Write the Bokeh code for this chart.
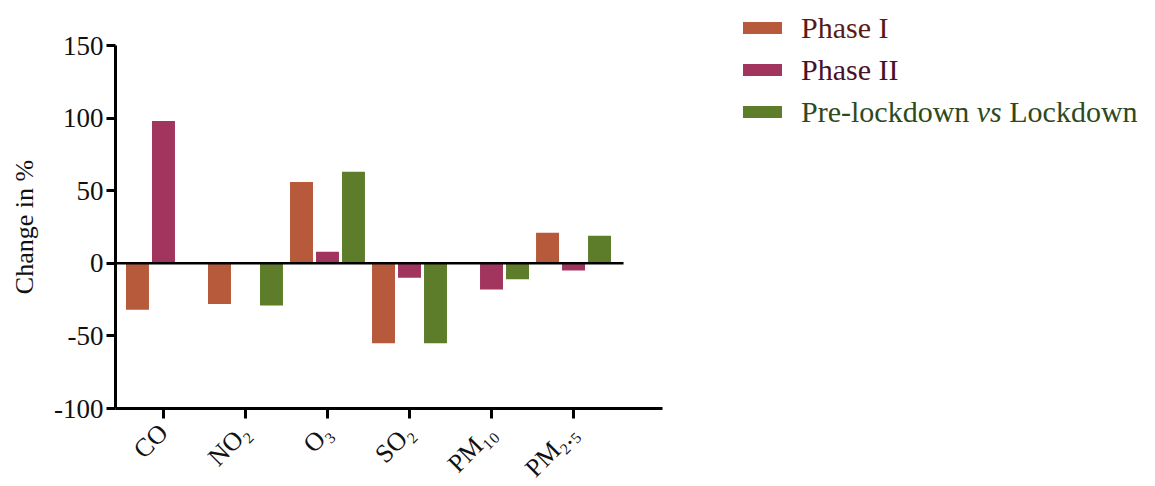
from bokeh.plotting import figure
from bokeh.models import ColumnDataSource, FixedTicker, Range1d, Div
from bokeh.transform import dodge
from bokeh.layouts import row
from bokeh.embed import file_html
from bokeh.resources import INLINE

pollutants = ["CO", "NO\u2082", "O\u2083", "SO\u2082", "PM\u2081\u2080", "PM\u2082.\u2085"]
phase1 = [-32, -28, 56, -55, 0, 21]
phase2 = [98, 0, 8, -10, -18, -5]
prelock = [0, -29, 63, -55, -11, 19]
series_names = ["Phase I", "Phase II", "Pre-lockdown vs Lockdown"]
y_ticks = [-100, -50, 0, 50, 100, 150]
y_tick_labels = ["-100", "-50", "0", "50", "100", "150"]

colors = ["#B65A3B", "#A1355E", "#5E7D2B"]
text_colors = ["#5C1A16", "#4A0F2B", "#2E4A1C"]
FONT = "Liberation Serif"

xs = list(range(len(pollutants)))
src = ColumnDataSource(dict(x=xs, p1=phase1, p2=phase2, pl=prelock))

p = figure(width=692, height=480, output_backend="svg", toolbar_location=None,
           x_range=Range1d(-0.585, 6.085), y_range=Range1d(-100, 150),
           min_border_left=115, min_border_top=45, min_border_right=30,
           min_border_bottom=72)
p.frame_width = 547
p.frame_height = 363
p.outline_line_color = None
p.background_fill_color = "white"
p.border_fill_color = "white"
p.grid.visible = False

W = 0.28
OFF = 0.317
for col, off, c in zip(["p1", "p2", "pl"], [-OFF, 0, OFF], colors):
    p.vbar(x=dodge("x", off), top=col, bottom=0, width=W, source=src,
           fill_color=c, line_color=None)

# zero line
p.segment(x0=[-0.585], y0=[0], x1=[5.61], y1=[0], line_color="black", line_width=2.5)

for ax in (p.xaxis, p.yaxis):
    ax.axis_line_width = 3
    ax.axis_line_color = "black"
    ax.major_tick_line_width = 3
    ax.major_tick_line_color = "black"
    ax.minor_tick_line_color = None
    ax.major_tick_in = 0
    ax.major_label_text_font = FONT
    ax.major_label_text_color = "#111111"

p.yaxis.ticker = FixedTicker(ticks=y_ticks)
p.yaxis.major_label_overrides = dict(zip(y_ticks, y_tick_labels))
p.yaxis.major_tick_out = 9
p.yaxis.major_label_text_font_size = "27px"
p.yaxis.major_label_standoff = 3
p.yaxis.axis_label = "Change in %"
p.yaxis.axis_label_text_font = FONT
p.yaxis.axis_label_text_font_size = "26px"
p.yaxis.axis_label_text_font_style = "normal"
p.yaxis.axis_label_text_color = "#111111"
p.yaxis.axis_label_standoff = 12

p.xaxis.ticker = FixedTicker(ticks=xs)
p.xaxis.major_label_overrides = {i: lab for i, lab in enumerate(pollutants)}
p.xaxis.major_tick_out = 10
p.xaxis.major_label_text_font_size = "26px"
p.xaxis.major_label_orientation = 0.785398
p.xaxis.major_label_standoff = 10

# legend (HTML, allows the italic "vs")
box_tops = [17, 59, 101]
parts = series_names[2].split(" ")
labels_html = [series_names[0], series_names[1],
               f"{parts[0]} <i>{parts[1]}</i> {parts[2]}"]
items = []
for top, c, tc, lab in zip(box_tops, colors, text_colors, labels_html):
    items.append(
        f'<div style="position:absolute;left:46px;top:{top}px;width:39px;height:12px;background:{c};"></div>'
        f'<div style="position:absolute;left:104px;top:{top - 11}px;height:34px;line-height:34px;'
        f'white-space:nowrap;font-family:\'{FONT}\';font-size:30px;color:{tc};">{lab}</div>'
    )
legend_div = Div(text='<div style="position:relative;width:455px;height:480px;">' + "".join(items) + "</div>",
                 width=455, height=480)

layout = row(p, legend_div)
open("out.html", "w").write(file_html(layout, INLINE))
